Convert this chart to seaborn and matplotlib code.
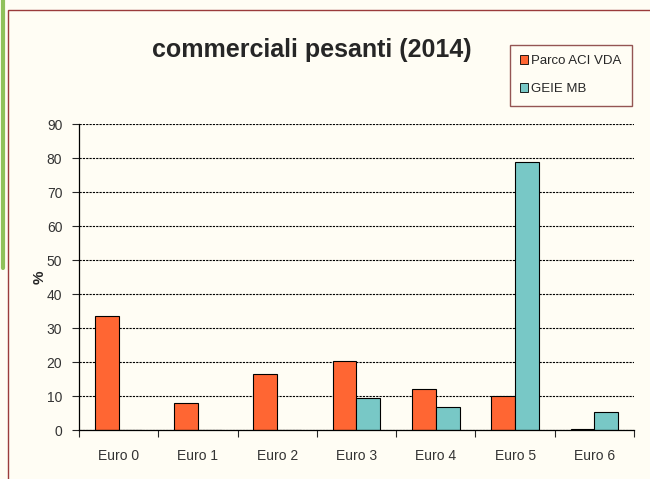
import numpy as np
import pandas as pd
import matplotlib
matplotlib.use('Agg')
import matplotlib.pyplot as plt
import seaborn as sns
from matplotlib.patches import Rectangle, Patch
from matplotlib.lines import Line2D

categorie = ['Euro 0', 'Euro 1', 'Euro 2', 'Euro 3', 'Euro 4', 'Euro 5', 'Euro 6']
parco_aci = [33.5, 8.0, 16.5, 20.3, 12.0, 10.0, 0.3]
geie_mb = [0.0, 0.0, 0.0, 9.5, 6.8, 78.8, 5.3]
serie = ['Parco ACI VDA', 'GEIE MB']
colori = ['#FF6633', '#78C8C6']

df = pd.DataFrame({
    'Euro': categorie * 2,
    'valore': parco_aci + geie_mb,
    'serie': [serie[0]] * 7 + [serie[1]] * 7,
})

sns.set_style('white')
plt.rcParams['font.family'] = ['Liberation Sans', 'DejaVu Sans']

fig = plt.figure(figsize=(6.5, 4.79), dpi=100)
fig.patch.set_facecolor('#FFFDF4')

# cornice del grafico e linea verde a sinistra
fig.add_artist(Rectangle((8 / 650, -0.05), 1.0, 1 - 10 / 479 + 0.05,
                         transform=fig.transFigure, fill=False,
                         edgecolor='#9A3B3B', linewidth=1.0))
fig.add_artist(Line2D([3 / 650, 3 / 650], [1, 1 - 268 / 479],
                      transform=fig.transFigure, color='#8FC15B', linewidth=3))

ax = fig.add_axes([79 / 650, 1 - 430 / 479, 555 / 650, 306 / 479])
ax.set_facecolor('#FFFDF4')

sns.barplot(data=df, x='Euro', y='valore', hue='serie', palette=colori, saturation=1,
            width=0.6, edgecolor='black', linewidth=0.8, ax=ax, legend=False)

ax.set_ylim(0, 90)
ax.set_yticks(np.arange(0, 91, 10))
ax.set_xlim(-0.5, 6.5)
ax.yaxis.grid(True, linestyle=(0, (2, 1)), color='black', linewidth=0.8)
ax.set_axisbelow(True)
for s in ['top', 'right']:
    ax.spines[s].set_visible(False)
for s in ['left', 'bottom']:
    ax.spines[s].set_color('black')
    ax.spines[s].set_linewidth(0.9)

ax.tick_params(axis='y', length=5, width=0.8, direction='out', labelsize=10, pad=7,
               left=True, labelcolor='#333333')
ax.tick_params(axis='x', which='major', length=0, labelsize=10, pad=14, labelcolor='#333333')
ax.set_xticks(np.arange(-0.5, 7, 1), minor=True)
ax.tick_params(axis='x', which='minor', length=5, width=0.8, direction='out', bottom=True)
ax.set_xlabel('')
ax.set_ylabel('%', fontsize=11, fontweight='bold', labelpad=0)

fig.text(312 / 650, 1 - 50 / 479, 'commerciali pesanti (2014)', ha='center', va='center',
         fontsize=18, fontweight='bold')

handles = [Patch(facecolor=c, edgecolor='black', linewidth=0.6, label=s) for c, s in zip(colori, serie)]
leg = fig.legend(handles=handles, loc='upper left', bbox_to_anchor=(503 / 650, 1 - 38 / 479),
                 frameon=True, fancybox=False, fontsize=9.5, handlelength=0.6, handleheight=0.6,
                 handletextpad=0.2, labelspacing=1.2, borderpad=0.8)
leg.get_frame().set_edgecolor('#7A2B2B')
leg.get_frame().set_linewidth(1.0)
leg.get_frame().set_facecolor('#FFFDF4')

fig.savefig('out.png', dpi=100, facecolor=fig.get_facecolor())
